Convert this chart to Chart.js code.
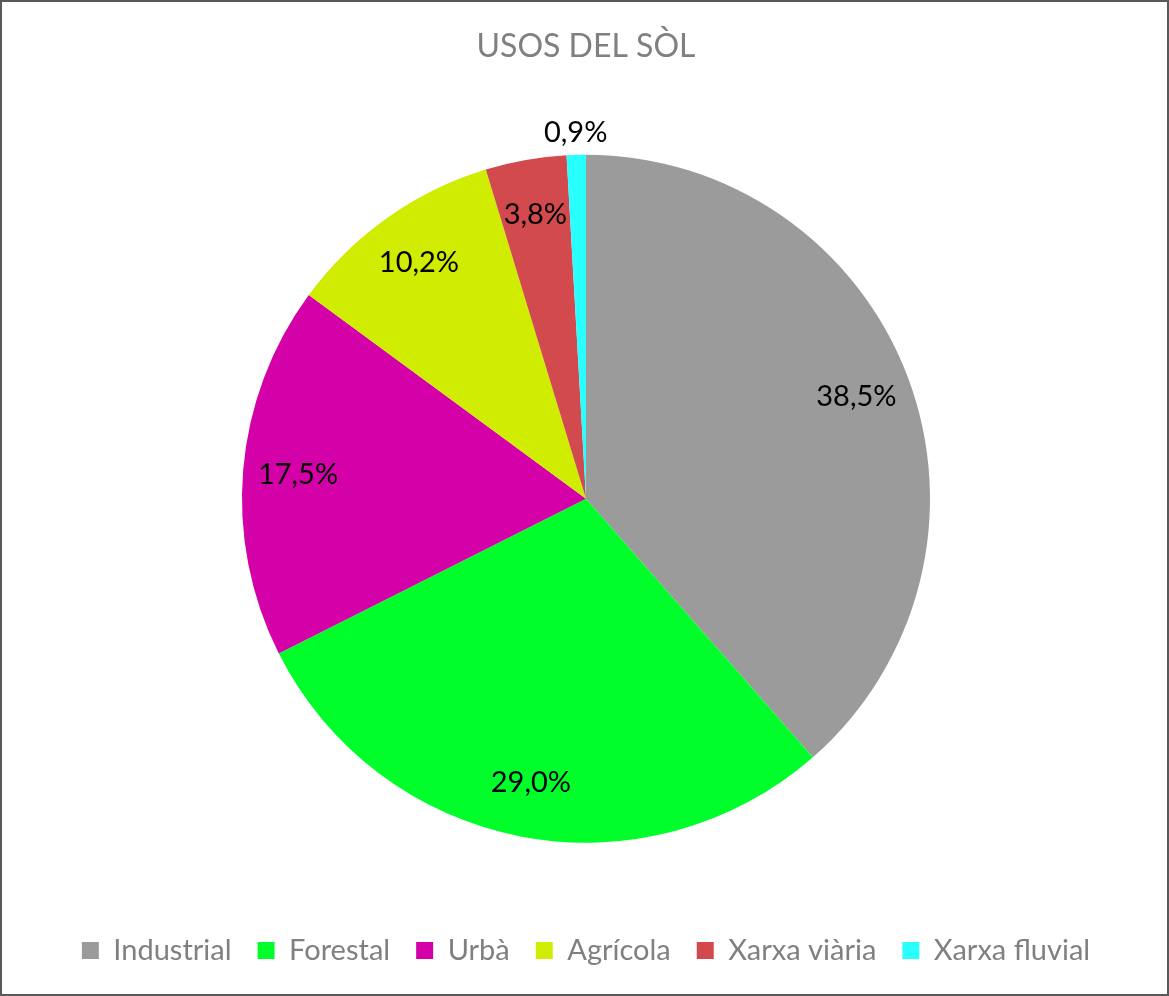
<!DOCTYPE html>
<html>
<head>
<meta charset="utf-8">
<script src="https://cdn.jsdelivr.net/npm/chart.js@4"></script>
<style>
  html, body { margin: 0; padding: 0; background: #fff; }
  #wrap { width: 1165px; height: 992px; border: 2px solid #595959; position: relative; }
</style>
</head>
<body>
<div id="wrap"><canvas id="pieChart" width="1165" height="992"></canvas></div>
<script>
const labels = ["Industrial", "Forestal", "Urbà", "Agrícola", "Xarxa viària", "Xarxa fluvial"];
const values = [38.5, 29.0, 17.5, 10.2, 3.8, 0.9];
const colors = ["#9b9b9b", "#00ff2a", "#d400a8", "#d0ec00", "#d24a4e", "#2affff"];

// percentage labels, placed like Excel (inside, or outside for tiny slices)
const pctLabels = {
  id: "pctLabels",
  afterDatasetsDraw(chart) {
    const { ctx } = chart;
    const meta = chart.getDatasetMeta(0);
    ctx.save();
    ctx.font = "29px Lato";
    ctx.fillStyle = "#000";
    ctx.textAlign = "center";
    ctx.textBaseline = "middle";
    meta.data.forEach((arc, i) => {
      const mid = (arc.startAngle + arc.endAngle) / 2;
      const r = values[i] < 2 ? arc.outerRadius + 22 : arc.outerRadius * 0.84;
      const x = arc.x + Math.cos(mid) * r;
      const y = arc.y + Math.sin(mid) * r;
      ctx.fillText(values[i].toFixed(1).replace(".", ",") + "%", x, y);
    });
    ctx.restore();
  }
};

new Chart(document.getElementById("pieChart"), {
  type: "pie",
  data: {
    labels: labels,
    datasets: [{
      data: values,
      backgroundColor: colors,
      borderWidth: 0,
      radius: 344
    }]
  },
  options: {
    responsive: false,
    animation: false,
    layout: { padding: { left: 3, right: 0, top: 0, bottom: 19 } },
    plugins: {
      title: {
        display: true,
        text: "USOS DEL SÒL",
        color: "#808080",
        font: { family: "Lato", size: 32, weight: "normal" },
        padding: { top: 25, bottom: 22 }
      },
      legend: {
        position: "bottom",
        labels: {
          color: "#808080",
          font: { family: "Lato", size: 29 },
          boxWidth: 17,
          boxHeight: 17,
          padding: 26,
          useBorderRadius: false
        }
      },
      tooltip: { enabled: false }
    }
  },
  plugins: [pctLabels]
});
</script>
</body>
</html>
